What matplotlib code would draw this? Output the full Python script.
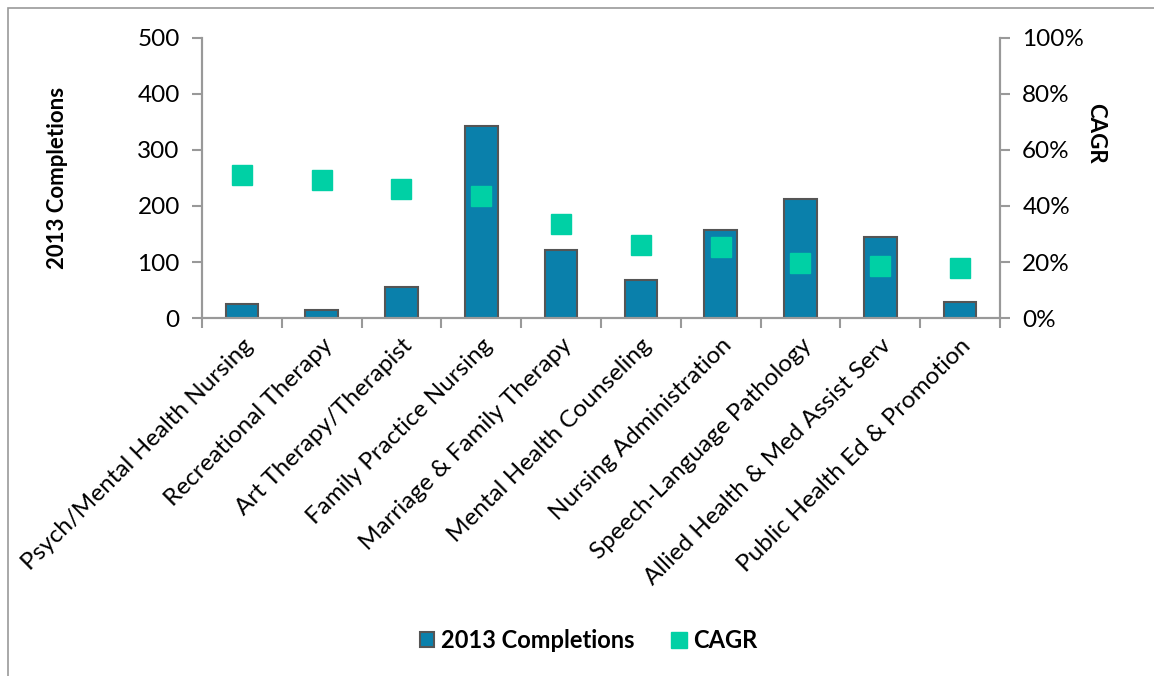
import matplotlib.pyplot as plt
import numpy as np
from matplotlib.patches import Rectangle

# Dane
programs = ['Psych/Mental Health Nursing', 'Recreational Therapy', 'Art Therapy/Therapist',
            'Family Practice Nursing', 'Marriage & Family Therapy', 'Mental Health Counseling',
            'Nursing Administration', 'Speech-Language Pathology', 'Allied Health & Med Assist Serv',
            'Public Health Ed & Promotion']
completions = [25, 14, 55, 343, 121, 68, 157, 213, 144, 29]
cagr = [0.51, 0.494, 0.462, 0.437, 0.335, 0.259, 0.255, 0.198, 0.187, 0.177]

bar_color = '#0A80AB'
cagr_color = '#00D0A5'
axis_color = '#999999'

plt.rcParams['font.family'] = ['Lato', 'DejaVu Sans']

fig = plt.figure(figsize=(11.54, 6.76), dpi=100)
ax = fig.add_axes([202 / 1154, 1 - 318 / 676, 798 / 1154, 280 / 676])
ax2 = ax.twinx()

x = np.arange(len(programs))
ax.bar(x, completions, width=0.41, color=bar_color, edgecolor='#555555', linewidth=1.5,
       label='2013 Completions', zorder=2)
ax2.plot(x, cagr, linestyle='none', marker='s', markersize=15, color=cagr_color,
         label='CAGR', zorder=3)

ax.set_xlim(-0.5, len(programs) - 0.5)
ax.set_ylim(0, 500)
ax.set_yticks(range(0, 501, 100))
ax2.set_ylim(0, 1)
ax2.set_yticks(np.arange(0, 1.01, 0.2))
ax2.set_yticklabels([f'{int(round(v * 100))}%' for v in np.arange(0, 1.01, 0.2)])

# Osie
fs = 17.5
ax.set_xticks(x)
ax.set_xticklabels(programs, rotation=45, ha='right', rotation_mode='anchor', fontsize=fs)
ax.set_xticks(np.arange(-0.5, len(programs), 1), minor=True)
ax.tick_params(axis='x', which='major', length=0, pad=12)
ax.tick_params(axis='x', which='minor', length=7, color=axis_color, width=1.5, direction='out')
ax.tick_params(axis='y', labelsize=fs, length=7, color=axis_color, width=1.5, pad=9)
ax2.tick_params(axis='y', labelsize=fs, length=7, color=axis_color, width=1.5, pad=9)

for a in (ax, ax2):
    a.spines['top'].set_visible(False)
    for s in ('left', 'right', 'bottom'):
        a.spines[s].set_color(axis_color)
        a.spines[s].set_linewidth(1.5)

ax.set_ylabel('2013 Completions', fontsize=16, fontweight='bold')
ax.yaxis.set_label_coords(-0.168, 0.5)
ax2.set_ylabel('CAGR', fontsize=16, fontweight='bold', rotation=270, va='center')
ax2.yaxis.set_label_coords(1.12, 0.66)

# Legenda
h1, l1 = ax.get_legend_handles_labels()
h2, l2 = ax2.get_legend_handles_labels()
fig.legend(h1 + h2, l1 + l2, loc='center', bbox_to_anchor=(0.51, 1 - 640 / 676), ncol=2,
           frameon=False, prop={'weight': 'bold', 'size': 17}, handlelength=0.6,
           handleheight=0.6, handletextpad=0.3, columnspacing=1.6, markerscale=0.75)

# Ramka wykresu
fig.patches.append(Rectangle((8 / 1154, -0.01), 1.1, 1 - 8 / 676 + 0.01,
                             transform=fig.transFigure, fill=False,
                             edgecolor='#999999', linewidth=1.2))

plt.savefig('out.png', dpi=100)
